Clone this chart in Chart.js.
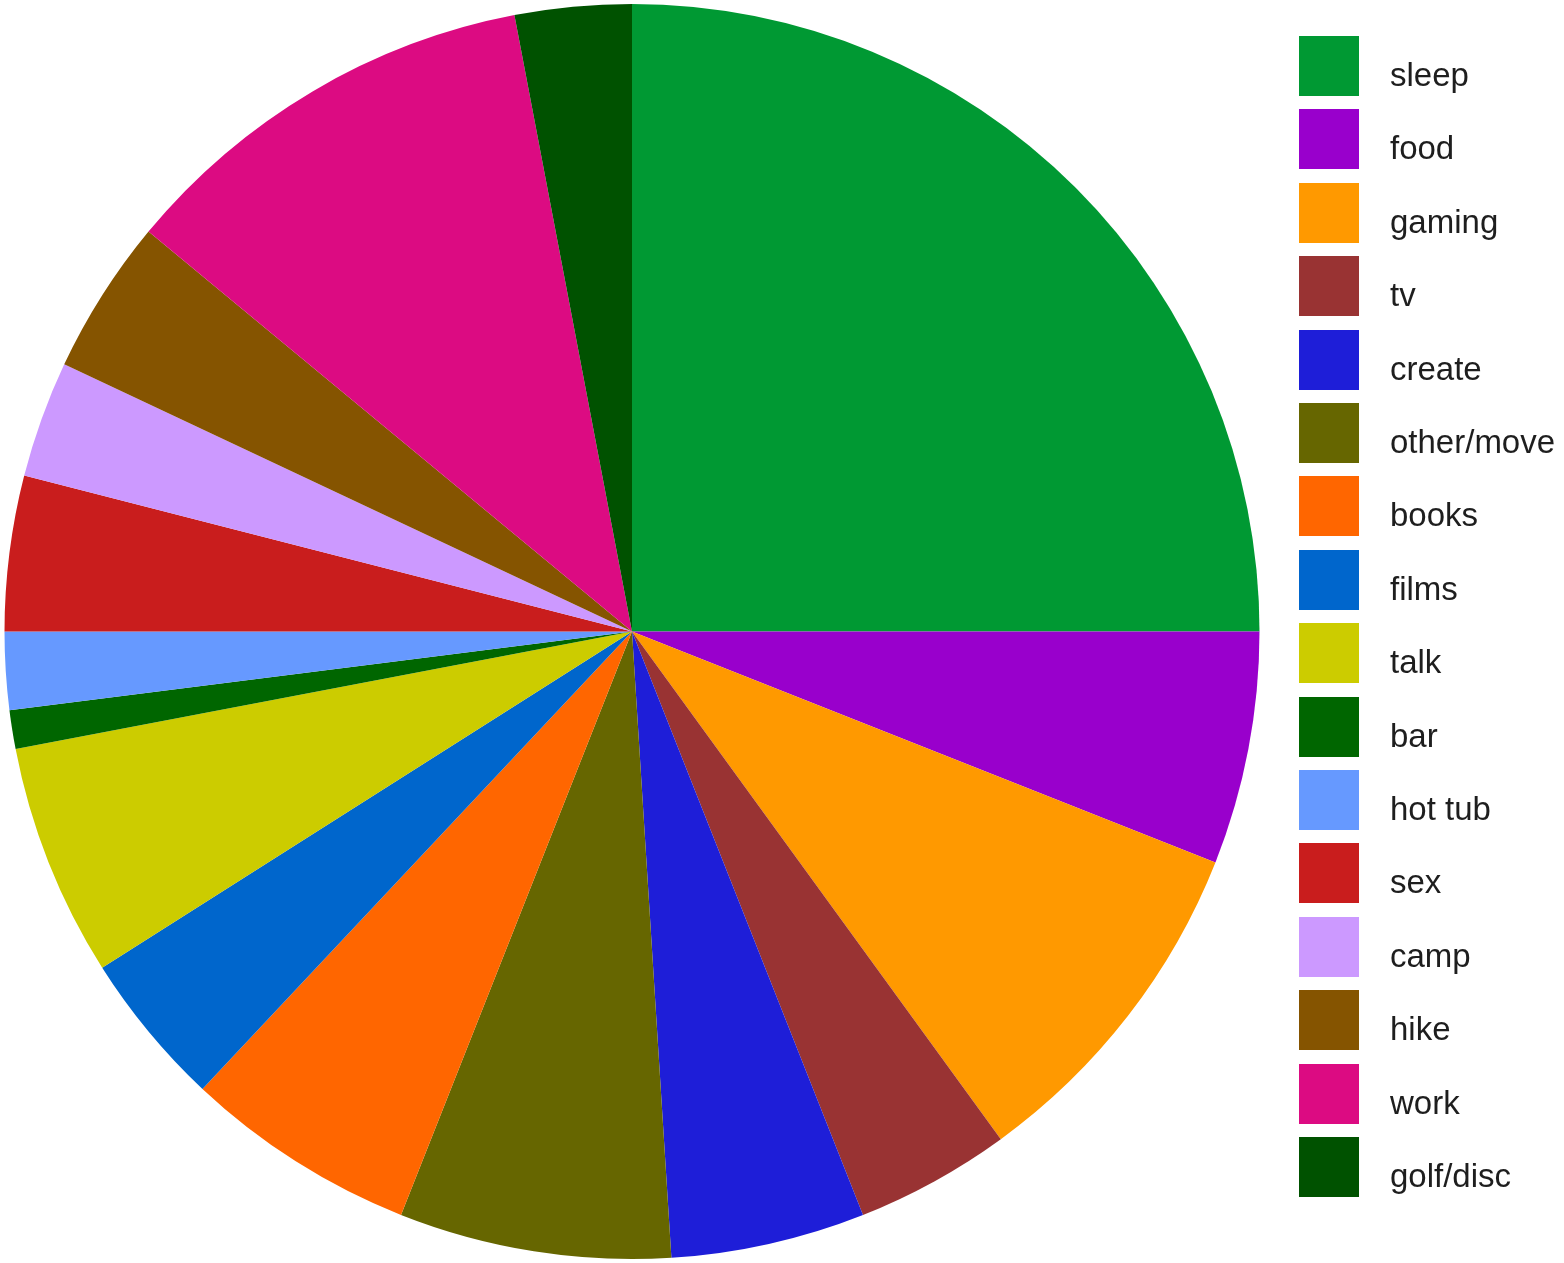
<!DOCTYPE html>
<html>
<head>
<meta charset="utf-8">
<script src="https://cdn.jsdelivr.net/npm/chart.js@4/dist/chart.umd.min.js"></script>
<style>
  html, body { margin: 0; padding: 0; background: #fff; }
  #wrap { width: 1564px; height: 1263px; position: relative; }
</style>
</head>
<body>
<div id="wrap"><canvas id="pie"></canvas></div>
<script>
// share of time per activity (%)
var labels = ['sleep', 'food', 'gaming', 'tv', 'create', 'other/move', 'books', 'films',
              'talk', 'bar', 'hot tub', 'sex', 'camp', 'hike', 'work', 'golf/disc'];
var values = [25, 6, 9, 4, 5, 7, 6, 4, 6, 1, 2, 4, 3, 4, 11, 3];
var colors = ['#009933', '#9900cc', '#ff9900', '#993333', '#1e1ed8', '#666600', '#ff6600', '#0066cc',
              '#cccc00', '#006600', '#6699ff', '#c91d1d', '#cc99ff', '#855400', '#dc0b82', '#005200'];

// legend drawn by hand: box on the left, text sits a bit lower than box centre
var sideLegend = {
  id: 'sideLegend',
  afterDraw: function(chart) {
    var ctx = chart.ctx;
    var boxX = 1299, boxTop = 36, boxSize = 60, step = 73.4;
    ctx.save();
    ctx.font = '33px "Liberation Sans", Arial, sans-serif';
    ctx.textBaseline = 'alphabetic';
    ctx.textAlign = 'left';
    chart.data.labels.forEach(function(lbl, i) {
      var y = Math.round(boxTop + i * step);
      ctx.fillStyle = chart.data.datasets[0].backgroundColor[i];
      ctx.fillRect(boxX, y, boxSize, boxSize);
      ctx.fillStyle = '#1e1e1e';
      ctx.fillText(lbl, 1390, y + 50);
    });
    ctx.restore();
  }
};

new Chart(document.getElementById('pie').getContext('2d'), {
  type: 'pie',
  data: {
    labels: labels,
    datasets: [{
      data: values,
      backgroundColor: colors,
      borderWidth: 0
    }]
  },
  options: {
    responsive: true,
    maintainAspectRatio: false,
    animation: false,
    layout: { padding: { left: 4, top: 4, bottom: 4, right: 304 } },
    plugins: {
      legend: { display: false },
      tooltip: { enabled: false }
    }
  },
  plugins: [sideLegend]
});
</script>
</body>
</html>
